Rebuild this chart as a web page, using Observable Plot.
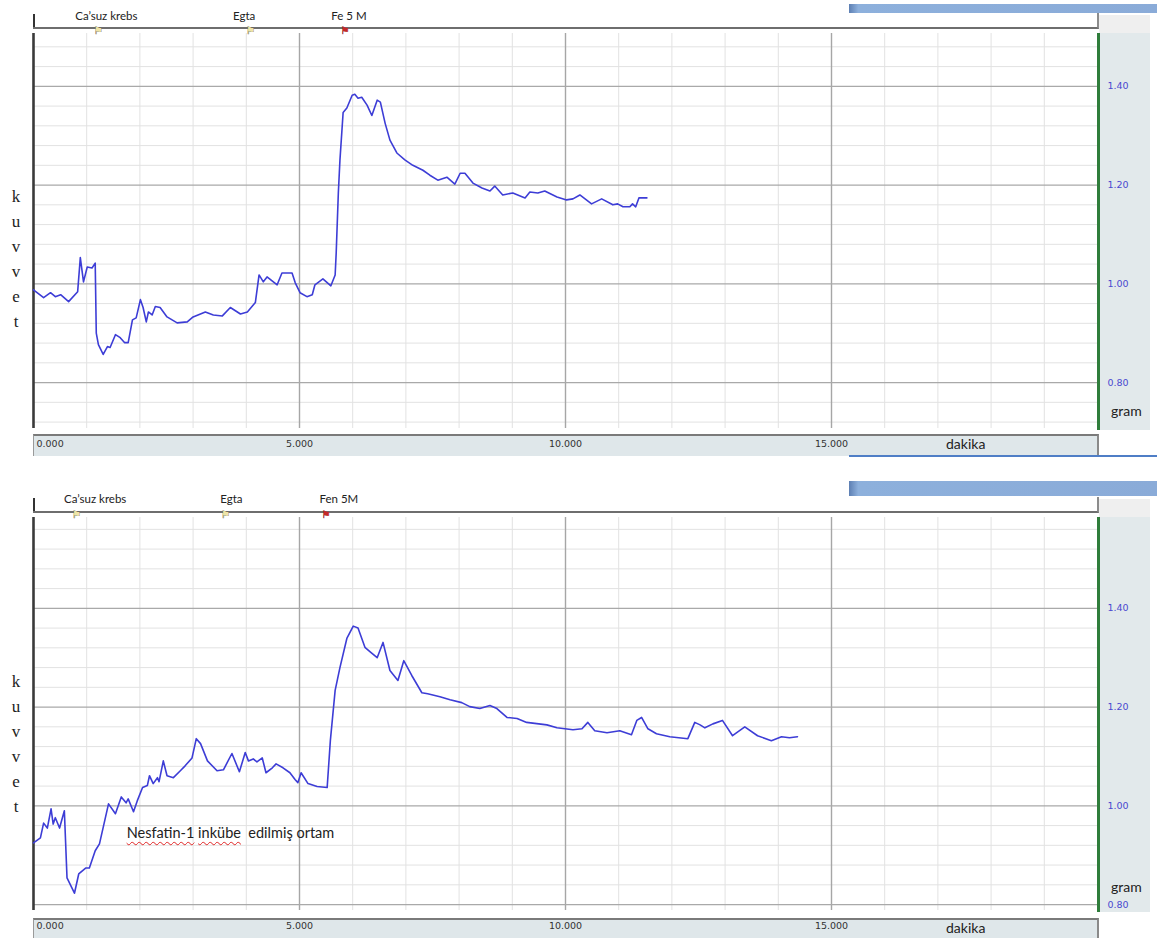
<!DOCTYPE html>
<html><head><meta charset="utf-8">
<script src="https://cdn.jsdelivr.net/npm/d3@7"></script>
<script src="https://cdn.jsdelivr.net/npm/@observablehq/plot@0.6"></script>
<style>
body{margin:0;background:#fff;}
#root{position:relative;width:1157px;height:938px;overflow:hidden;font-family:Lato,"Open Sans",sans-serif;}
.abs{position:absolute;box-sizing:border-box;}
#root svg{position:absolute;left:0;}
.kuv{position:absolute;left:8px;width:16px;text-align:center;font-family:"Liberation Serif",serif;font-size:17px;line-height:25px;color:#222;}
.lbl{position:absolute;font-family:Lato,sans-serif;color:#222;white-space:nowrap;}
.wavy{text-decoration:underline wavy #e02424;text-decoration-thickness:1px;text-underline-offset:3px;}
</style></head><body><div id="root"></div>
<script>
// ---- axis ticks ----
const xMinorTicks = [1,2,3,4,6,7,8,9,11,12,13,14,16,17,18,19];
const xMajorTicks = [5,10,15];
const xLabelTicks = [0,5,10,15];
const yMajorTicks = [0.80,1.00,1.20,1.40];
const yMinorTicks = [0.72,0.76,0.84,0.88,0.92,0.96,1.04,1.08,1.12,1.16,1.24,1.28,1.32,1.36,1.44,1.48,1.52,1.56];

// ---- panel 1 (control) ----
const p1Time = [0.00,0.19,0.32,0.41,0.51,0.66,0.83,0.88,0.94,1.01,1.10,1.16,1.18,1.22,1.31,1.39,1.44,1.54,1.63,1.71,1.78,1.86,1.93,2.01,2.06,2.12,2.16,2.23,2.29,2.38,2.51,2.70,2.89,3.00,3.23,3.38,3.55,3.70,3.89,4.02,4.17,4.24,4.32,4.39,4.58,4.67,4.86,4.92,5.01,5.14,5.24,5.29,5.44,5.59,5.67,5.69,5.73,5.76,5.82,5.89,5.99,6.04,6.10,6.17,6.27,6.36,6.46,6.52,6.61,6.70,6.83,6.98,7.13,7.32,7.45,7.60,7.77,7.92,8.02,8.11,8.26,8.43,8.58,8.67,8.82,9.01,9.24,9.33,9.48,9.61,9.84,10.02,10.14,10.27,10.49,10.68,10.89,10.98,11.08,11.21,11.26,11.32,11.38,11.53];
const p1Force = [0.988,0.972,0.982,0.974,0.978,0.964,0.984,1.053,1.004,1.034,1.032,1.042,0.900,0.877,0.857,0.873,0.871,0.897,0.891,0.881,0.881,0.927,0.931,0.968,0.952,0.923,0.943,0.937,0.954,0.952,0.933,0.921,0.923,0.933,0.943,0.937,0.935,0.952,0.939,0.943,0.962,1.018,1.004,1.014,0.998,1.022,1.022,1.002,0.982,0.974,0.978,0.998,1.010,0.996,1.018,1.063,1.184,1.250,1.347,1.356,1.382,1.384,1.376,1.378,1.362,1.341,1.372,1.368,1.325,1.291,1.265,1.251,1.240,1.230,1.220,1.210,1.216,1.202,1.224,1.224,1.204,1.194,1.188,1.198,1.180,1.184,1.174,1.186,1.184,1.188,1.176,1.170,1.172,1.180,1.162,1.172,1.160,1.162,1.156,1.156,1.162,1.156,1.174,1.174];
const p1EventLabels = ["Ca\u2019suz krebs","Egta","Fe 5 M"];
const p1EventTimes = [1.16,4.02,5.80];
const p1LabelTimes = [1.37,3.96,5.93];

// ---- panel 2 (Nesfatin-1) ----
const p2Time = [0.00,0.13,0.19,0.26,0.33,0.37,0.41,0.49,0.58,0.63,0.77,0.85,0.98,1.05,1.16,1.24,1.41,1.54,1.65,1.74,1.78,1.88,1.95,2.05,2.14,2.18,2.25,2.33,2.36,2.44,2.51,2.63,2.76,2.85,2.98,3.06,3.14,3.27,3.45,3.57,3.73,3.87,3.98,4.04,4.13,4.20,4.30,4.37,4.49,4.56,4.69,4.82,4.92,4.97,5.03,5.16,5.33,5.52,5.58,5.67,5.76,5.89,6.01,6.10,6.23,6.34,6.46,6.57,6.70,6.85,6.96,7.11,7.30,7.41,7.64,7.83,8.05,8.20,8.39,8.58,8.71,8.90,9.09,9.27,9.65,9.84,10.14,10.31,10.42,10.55,10.78,11.02,11.24,11.34,11.43,11.55,11.71,11.96,12.30,12.43,12.53,12.62,12.77,12.95,13.14,13.37,13.61,13.87,14.06,14.21,14.36];
const p2Force = [0.925,0.935,0.965,0.955,0.994,0.963,0.976,0.955,0.990,0.854,0.823,0.862,0.874,0.874,0.909,0.923,1.004,0.984,1.018,1.006,1.014,0.988,1.010,1.037,1.041,1.061,1.045,1.057,1.049,1.091,1.061,1.057,1.071,1.081,1.097,1.136,1.126,1.091,1.071,1.073,1.106,1.069,1.108,1.091,1.095,1.089,1.097,1.067,1.077,1.085,1.077,1.067,1.053,1.047,1.067,1.045,1.039,1.037,1.132,1.234,1.280,1.339,1.364,1.360,1.321,1.311,1.300,1.331,1.274,1.254,1.294,1.264,1.229,1.227,1.221,1.215,1.209,1.201,1.197,1.203,1.197,1.179,1.177,1.169,1.164,1.158,1.154,1.156,1.169,1.152,1.148,1.152,1.144,1.173,1.179,1.156,1.146,1.140,1.136,1.169,1.164,1.158,1.166,1.173,1.142,1.160,1.142,1.132,1.140,1.138,1.140];
const p2EventLabels = ["Ca\u2019suz krebs","Egta","Fen 5M"];
const p2EventTimes = [0.75,3.55,5.44];
const p2LabelTimes = [1.16,3.72,5.74];
const annotationText = ["Nesfatin-1"," ","inkübe","  edilmiş ortam"];
const annotationTime = 1.76, annotationForce = 0.939;

const root = document.getElementById("root");
function box(css){const d=document.createElement("div");d.className="abs";Object.assign(d.style,css);root.appendChild(d);return d;}
function label(text,css){const d=document.createElement("div");d.className="lbl";d.textContent=text;Object.assign(d.style,css);root.appendChild(d);return d;}
const fmt3 = d3.format(".3f"), fmt2 = d3.format(".2f");
const tickFont = "DejaVu Sans";

function panel(cfg){
  const yMinor = yMinorTicks.filter(v => v > cfg.yDomain[0] && v < cfg.yDomain[1]);
  const data = cfg.time.map((t,i)=>({t, f: cfg.force[i]}));
  const events = cfg.eventTimes.map((t,i)=>({t, lt: cfg.labelTimes[i], label: cfg.labels[i], last: i === cfg.eventTimes.length-1}));
  const p = Plot.plot({
    width: 1157, height: cfg.height,
    marginLeft: 33, marginRight: 60, marginTop: cfg.marginTop, marginBottom: cfg.marginBottom,
    x: {domain:[0,20], axis:null},
    y: {domain: cfg.yDomain, axis:null},
    style: {background:"transparent", overflow:"visible", fontFamily:"Lato, sans-serif"},
    marks: [
      Plot.ruleX(xMinorTicks, {x:d=>d, stroke:"#e2e2e2", strokeWidth:1}),
      Plot.ruleY(yMinor, {y:d=>d, stroke:"#e2e2e2", strokeWidth:1}),
      Plot.ruleX(xMajorTicks, {x:d=>d, stroke:"#a6a6a6", strokeWidth:1.4}),
      Plot.ruleY(yMajorTicks, {y:d=>d, stroke:"#a9a9a9", strokeWidth:1.4}),
      Plot.ruleX([0], {x:d=>d, stroke:"#3a3a3a", strokeWidth:2.6}),
      Plot.line(data, {x:"t", y:"f", stroke:"#3d3dd6", strokeWidth:1.6, strokeLinejoin:"round"}),
      Plot.axisY(yMajorTicks, {anchor:"right", label:null, tickSize:0, tickPadding:10, tickFormat:fmt2, fill:"#4a4ad0", fontSize:9.5, fontFamily:tickFont}),
      Plot.text(events, {x:"lt", text:"label", frameAnchor:"top", dy: cfg.labelDy, fontSize:11.5, fill:"#222"}),
      Plot.text(events.filter(e=>!e.last), {x:"t", text:()=>"\u2691", frameAnchor:"top", dy:-7, dx:3, fill:"#efe4a6", stroke:"#5a5a4a", strokeWidth:0.6, fontFamily:tickFont, fontSize:10}),
      Plot.text(events.filter(e=>e.last), {x:"t", text:()=>"\u2691", frameAnchor:"top", dy:-7, dx:3, fill:"#c42828", stroke:"#7a2020", strokeWidth:0.4, fontFamily:tickFont, fontSize:10}),
      Plot.text(xLabelTicks.slice(0,1), {x:d=>d, text:d=>fmt3(d), frameAnchor:"bottom", dy:18, dx:3, textAnchor:"start", fontSize:9.5, fontFamily:tickFont, fill:"#333"}),
      Plot.text(xLabelTicks.slice(1), {x:d=>d, text:d=>fmt3(d), frameAnchor:"bottom", dy:18, fontSize:9.5, fontFamily:tickFont, fill:"#333"})
    ]
  });
  return p;
}

function decorate(o){
  box({left:"849px", top:o.barTop+"px", width:"308px", height:o.barH+"px", background:"linear-gradient(to right,#5d7fb3,#8db0dc 3%,#8aabd8)"});
  box({left:"33px", top:(o.pt-20)+"px", width:"1066px", height:"16px", borderBottom:"2px solid #6e6e6e", borderRight:"2px solid #8c8c8c"});
  box({left:"33px", top:(o.pt-19)+"px", width:"1.5px", height:"13px", background:"#333"});
  box({left:"1099px", top:(o.pt-18)+"px", width:"51px", height:"18px", background:"#efefef"});
  box({left:"1097px", top:o.pt+"px", width:"53px", height:(o.pb-o.pt+2)+"px", background:"#e2e9eb", borderLeft:"3px solid #2f7d3b"});
  box({left:"33px", top:o.stripTop+"px", width:"1066px", height:o.stripH+"px", background:"#dfe7ea", borderTop:"2px solid #7a7a7a", borderLeft:"1px solid #9a9a9a", borderRight:"2px solid #8a8a8a"});
  if (o.underline) box({left:"849px", top:(o.stripTop+o.stripH-1)+"px", width:"308px", height:"2px", background:"#4f7ec6"});
  label("dakika",{left:"946px", top:(o.stripTop+1)+"px", fontSize:"14px"});
  label("gram",{left:"1111px", top:o.gramTop+"px", fontSize:"14px"});
  const k = document.createElement("div"); k.className="kuv"; k.style.top=o.kTop+"px";
  k.innerHTML = "k<br>u<br>v<br>v<br>e<br>t"; root.appendChild(k);
}

decorate({pt:33, pb:428, barTop:4, barH:9, stripTop:434, stripH:22, underline:true, gramTop:402, kTop:184});
decorate({pt:517, pb:910, barTop:481, barH:15, stripTop:918, stripH:22, underline:false, gramTop:878, kTop:669});

const plot1 = panel({height:460, marginTop:33, marginBottom:32, yDomain:[0.707,1.507], time:p1Time, force:p1Force, eventTimes:p1EventTimes, labelTimes:p1LabelTimes, labels:p1EventLabels, labelDy:-22});
plot1.style.top = "0px";
root.appendChild(plot1);
const plot2 = panel({height:473, marginTop:52, marginBottom:28, yDomain:[0.788,1.584], time:p2Time, force:p2Force, eventTimes:p2EventTimes, labelTimes:p2LabelTimes, labels:p2EventLabels, labelDy:-23});
plot2.style.top = "465px";
root.appendChild(plot2);

// annotation in panel 2, placed through the panel's own scales
const ax = plot2.scale("x").apply(annotationTime);
const ay = 465 + plot2.scale("y").apply(annotationForce);
const ann = document.createElement("div"); ann.className="lbl";
Object.assign(ann.style,{left:ax+"px", top:(ay-11)+"px", fontSize:"14.5px", whiteSpace:"pre"});
annotationText.forEach((s,i)=>{const sp=document.createElement("span"); sp.textContent=s; if(i===0||i===2) sp.className="wavy"; ann.appendChild(sp);});
root.appendChild(ann);
</script></body></html>
